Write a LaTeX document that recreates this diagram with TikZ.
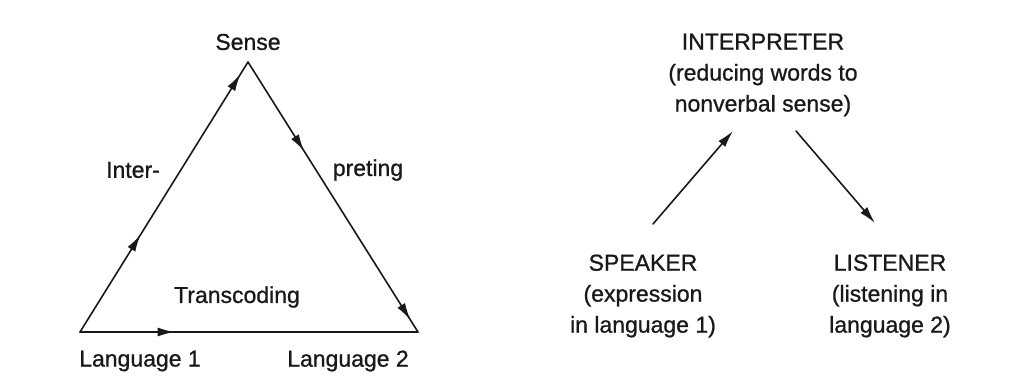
\documentclass[tikz,border=0pt]{standalone}
\usepackage{fontspec}
\setmainfont{Liberation Sans}[BoldFont=Liberation Sans, BoldFeatures={FakeBold=0.9}]
\usetikzlibrary{arrows.meta,decorations.markings}
\begin{document}
\begin{tikzpicture}[x=1pt,y=-1pt,
  lbl/.style={font=\fontsize{23}{31}\selectfont\bfseries, inner sep=0pt, align=center, text=black!90},
  tip/.style={-{Latex[length=17pt,width=9pt]}},
  edge/.style={line width=1.6pt, line cap=round, line join=round, draw=black!90},
]
\useasboundingbox (0,0) rectangle (1015,381);
% triangle
\coordinate (L1) at (80,332);
\coordinate (L2) at (418,332);
\coordinate (S) at (248,62);
\draw[edge, postaction={decorate}, decoration={markings,
   mark=at position 0.36 with {\arrow{Latex[length=17pt,width=9pt]}},
   mark=at position 0.955 with {\arrow{Latex[length=17pt,width=9pt]}}}] (L1) -- (S);
\draw[edge, postaction={decorate}, decoration={markings,
   mark=at position 0.33 with {\arrow{Latex[length=17pt,width=9pt]}},
   mark=at position 0.955 with {\arrow{Latex[length=17pt,width=9pt]}}}] (S) -- (L2);
\draw[edge, postaction={decorate}, decoration={markings,
   mark=at position 0.28 with {\arrow{Latex[length=17pt,width=9pt]}}}] (L1) -- (L2);
\node[lbl] (sense) at (248,42) {Sense};
\node[lbl] (inter) at (133,170) {Inter-};
\node[lbl] (pret) at (368,170) {preting};
\node[lbl] (trans) at (237,297) {Transcoding};
\node[lbl] (lang1) at (140,361) {Language 1};
\node[lbl] (lang2) at (348,361) {Language 2};
% right diagram
\node[lbl] (interp) at (763,75) {INTERPRETER\\(reducing words to\\nonverbal sense)};
\node[lbl] (spk) at (643,296) {SPEAKER\\(expression\\in language 1)};
\node[lbl] (lst) at (890,296) {LISTENER\\(listening in\\language 2)};
\coordinate (a1s) at (653,224);
\coordinate (a1e) at (733,131);
\coordinate (a2s) at (796,131);
\coordinate (a2e) at (875,223);
\draw[edge, tip] (a1s) -- (a1e);
\draw[edge, tip] (a2s) -- (a2e);
\end{tikzpicture}
\end{document}
